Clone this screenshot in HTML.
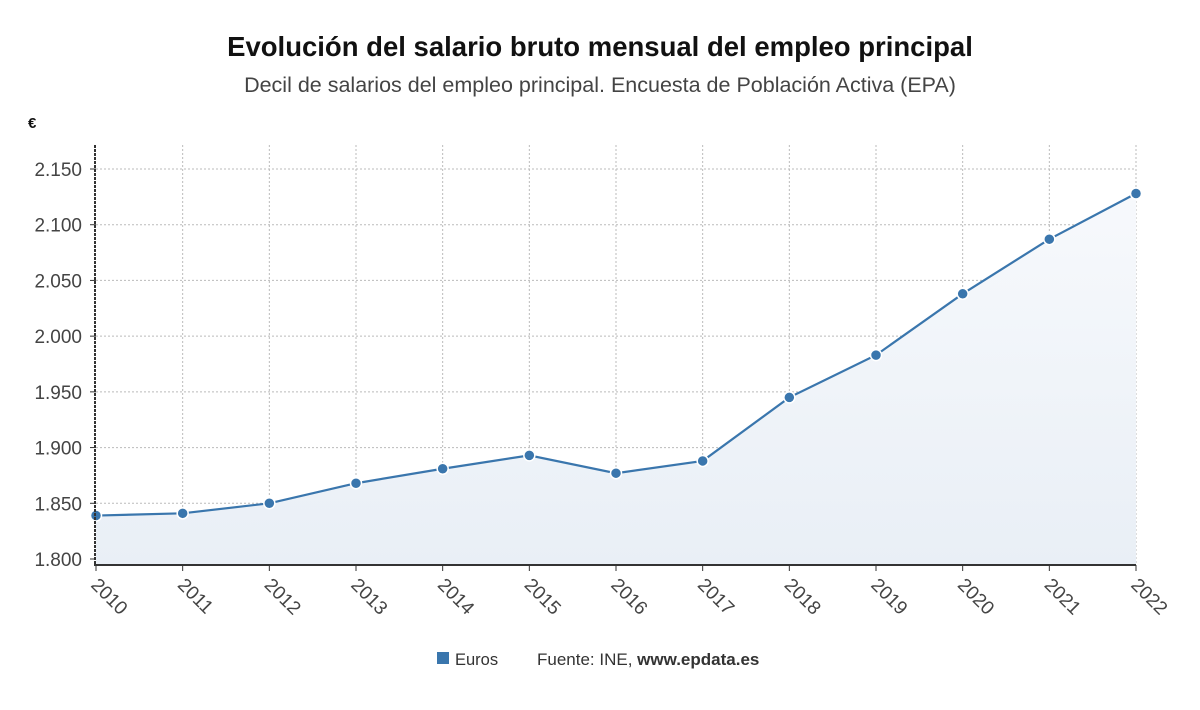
<!DOCTYPE html>
<html><head><meta charset="utf-8"><style>
body{margin:0;background:#fff;width:1200px;height:705px;overflow:hidden;font-family:"Liberation Sans","DejaVu Sans",sans-serif}
</style></head><body>
<svg id="c" width="1200" height="705" xmlns="http://www.w3.org/2000/svg">
<defs><linearGradient id="g" x1="0" y1="0" x2="0" y2="1"><stop offset="0" stop-color="#f7f9fc"/><stop offset="1" stop-color="#e9eff6"/></linearGradient></defs>
<text x="600" y="56" text-anchor="middle" font-size="27.5" font-weight="bold" fill="#111">Evolución del salario bruto mensual del empleo principal</text>
<text x="600" y="92" text-anchor="middle" font-size="21.5" fill="#444">Decil de salarios del empleo principal. Encuesta de Población Activa (EPA)</text>
<text x="28" y="128" font-size="15" font-weight="bold" fill="#111">€</text>
<g id="grid"></g><g id="marks"></g><g id="axes"></g>
<rect x="437" y="652" width="12" height="12" fill="#3a76ad"/>
<text x="455" y="665" font-size="16.5" fill="#333">Euros</text>
<text x="537" y="665" font-size="17" fill="#333">Fuente: INE, <tspan font-weight="bold">www.epdata.es</tspan></text>
</svg>
<script>
const years=[2010,2011,2012,2013,2014,2015,2016,2017,2018,2019,2020,2021,2022];
const values=[1839,1841,1850,1868,1881,1893,1877,1888,1945,1983,2038,2087,2128];
const yTicks=[1800,1850,1900,1950,2000,2050,2100,2150];
const yLabels=["1.800","1.850","1.900","1.950","2.000","2.050","2.100","2.150"];
const NS="http://www.w3.org/2000/svg";
const L=96,R=1136,T=145,B=565;
const x=i=>L+(R-L)*i/(years.length-1);
const y=v=>559-(v-1800)*(559-169)/350;
function mk(t,a,p){const e=document.createElementNS(NS,t);for(const k in a)e.setAttribute(k,a[k]);p.appendChild(e);return e;}
const grid=document.getElementById('grid'),marks=document.getElementById('marks'),axes=document.getElementById('axes');
yTicks.forEach((v,i)=>{
 const l=mk('line',{x1:L,x2:R,y1:y(v),y2:y(v),stroke:'#bbb','stroke-dasharray':'2,2'},grid);
 
 
 const t=mk('text',{x:82,y:y(v)+7,'text-anchor':'end','font-size':19,fill:'#444'},axes);
 t.textContent=yLabels[i];
 
 
 mk('line',{x1:90,x2:96,y1:y(v),y2:y(v),stroke:'#333'},axes);
});
years.forEach((yr,i)=>{
 if(i>0){const l=mk('line',{x1:x(i),x2:x(i),y1:T,y2:B,stroke:'#bbb','stroke-dasharray':'2,2'},grid);
 
 }
 mk('line',{x1:x(i),x2:x(i),y1:B,y2:B+6,stroke:'#333'},axes);
 const t=mk('text',{x:x(i)-6,y:B+21,'font-size':19,fill:'#444',transform:`rotate(45 ${x(i)-6} ${B+21})`},axes);
 t.textContent=yr;
 
 
});
const pts=values.map((v,i)=>x(i)+','+y(v)).join(' ');
const area=mk('polygon',{points:pts+` ${R},${B} ${L},${B}`,fill:'url(#g)'},marks);


const line=mk('polyline',{points:pts,fill:'none',stroke:'#3a76ad','stroke-width':2.2},marks);


values.forEach((v,i)=>{
 const c=mk('circle',{cx:x(i),cy:y(v),r:5.5,fill:'#3a76ad',stroke:'#fff','stroke-width':1.5},marks);
 
 
});
const ya=mk('line',{x1:L-1,x2:L-1,y1:T,y2:B,stroke:'#333','stroke-width':2,'stroke-dasharray':'3,1'},axes);


const xa=mk('line',{x1:L-2,x2:R,y1:B,y2:B,stroke:'#333','stroke-width':2},axes);


</script>
</body></html>
